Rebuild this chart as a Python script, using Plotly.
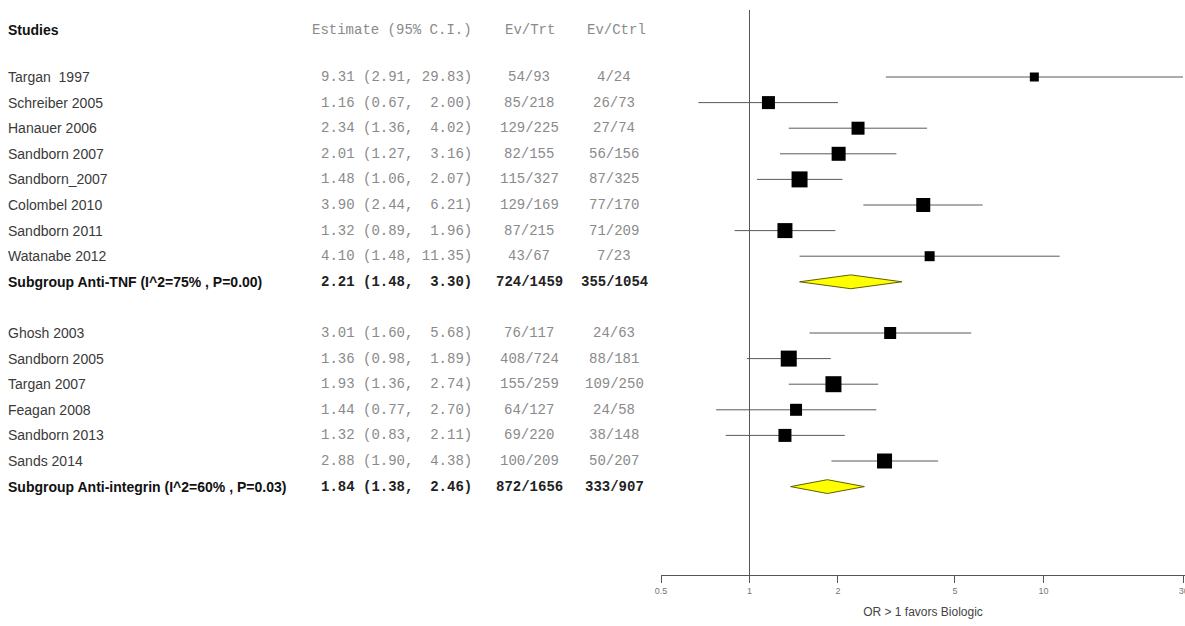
import math
import plotly.graph_objects as go

# ---------------- data ----------------
studies = ["Targan  1997", "Schreiber 2005", "Hanauer 2006", "Sandborn 2007", "Sandborn_2007",
           "Colombel 2010", "Sandborn 2011", "Watanabe 2012",
           "Ghosh 2003", "Sandborn 2005", "Targan 2007", "Feagan 2008", "Sandborn 2013", "Sands 2014"]
study_group = [1, 1, 1, 1, 1, 1, 1, 1, 2, 2, 2, 2, 2, 2]
est = [9.31, 1.16, 2.34, 2.01, 1.48, 3.90, 1.32, 4.10, 3.01, 1.36, 1.93, 1.44, 1.32, 2.88]
lo = [2.91, 0.67, 1.36, 1.27, 1.06, 2.44, 0.89, 1.48, 1.60, 0.98, 1.36, 0.77, 0.83, 1.90]
hi = [29.83, 2.00, 4.02, 3.16, 2.07, 6.21, 1.96, 11.35, 5.68, 1.89, 2.74, 2.70, 2.11, 4.38]
ev_trt = ["54/93", "85/218", "129/225", "82/155", "115/327", "129/169", "87/215", "43/67",
          "76/117", "408/724", "155/259", "64/127", "69/220", "100/209"]
ev_ctrl = ["4/24", "26/73", "27/74", "56/156", "87/325", "77/170", "71/209", "7/23",
           "24/63", "88/181", "109/250", "24/58", "38/148", "50/207"]

sub_labels = ["Subgroup Anti-TNF (I^2=75% , P=0.00)", "Subgroup Anti-integrin (I^2=60% , P=0.03)"]
sub_est = [2.21, 1.84]
sub_lo = [1.48, 1.38]
sub_hi = [3.30, 2.46]
sub_trt = ["724/1459", "872/1656"]
sub_ctrl = ["355/1054", "333/907"]

headers = ["Studies", "Estimate (95% C.I.)", "Ev/Trt", "Ev/Ctrl"]
tick_vals = [0.5, 1, 2, 5, 10, 30]
tick_text = ["0.5", "1", "2", "5", "10", "30"]
x_title = "OR > 1 favors Biologic"

# ---------------- layout helpers (styles) ----------------
W, H = 1185, 626
marker_sizes = [9, 13, 13, 14, 16, 14, 15, 10, 12, 16, 16, 12, 13, 15]

rows = []
r = 1
for i, g in enumerate(study_group):
    if i > 0 and g != study_group[i - 1]:
        r += 2  # subgroup row + blank row
    rows.append(r)
    r += 1
sub_rows = [rows[7] + 1, rows[-1] + 1]
header_row = -0.84

def px(xp):
    return xp / W

sans = "Liberation Sans, Arial, sans-serif"
mono = "Liberation Mono, Courier New, monospace"
name_font = dict(family=sans, size=14, color="#3a3a3a")
name_font_b = dict(family=sans, size=14, color="#111111")
mono_font = dict(family=mono, size=14, color="#8a8a8a")
mono_font_b = dict(family=mono, size=14, color="#222222")

fig = go.Figure()

cx, cy = [], []
for l, h, rr in zip(lo, hi, rows):
    cx += [l, h, None]
    cy += [rr, rr, None]
fig.add_trace(go.Scatter(x=cx, y=cy, mode="lines", line=dict(color="#5a5a5a", width=1),
                         hoverinfo="skip", showlegend=False))
fig.add_trace(go.Scatter(x=est, y=rows, mode="markers", opacity=1,
                         marker=dict(symbol="square", size=marker_sizes, color="#000000",
                                     opacity=1, line=dict(width=0, color="#000000")),
                         showlegend=False))
dh = 0.27
for e, l, h, rr in zip(sub_est, sub_lo, sub_hi, sub_rows):
    fig.add_trace(go.Scatter(x=[l, e, h, e, l], y=[rr, rr - dh, rr, rr + dh, rr],
                             mode="lines", fill="toself", fillcolor="#ffff00",
                             line=dict(color="#5f5f00", width=1), showlegend=False))

NAME_X, EST_X, TRT_X, CTRL_X = 7, 473, 529, 614
ann = []
ann.append(dict(x=px(NAME_X), y=header_row, text="<b>" + headers[0] + "</b>", xanchor="left", font=name_font_b))
ann.append(dict(x=px(EST_X), y=header_row, text=headers[1].replace(" ", "&nbsp;"), xanchor="right", font=mono_font))
ann.append(dict(x=px(TRT_X + 1), y=header_row, text=headers[2], xanchor="center", font=mono_font))
ann.append(dict(x=px(CTRL_X + 2), y=header_row, text=headers[3], xanchor="center", font=mono_font))

def est_str(e, l, h):
    return f"{e:.2f} ({l:.2f}, {h:5.2f})".replace(" ", "&nbsp;")

for i, rr in enumerate(rows):
    ann.append(dict(x=px(NAME_X), y=rr, text=studies[i].replace("  ", "&nbsp; "), xanchor="left", font=name_font))
    ann.append(dict(x=px(EST_X), y=rr, text=est_str(est[i], lo[i], hi[i]), xanchor="right", font=mono_font))
    ann.append(dict(x=px(TRT_X), y=rr, text=ev_trt[i], xanchor="center", font=mono_font))
    ann.append(dict(x=px(CTRL_X), y=rr, text=ev_ctrl[i], xanchor="center", font=mono_font))
for j, rr in enumerate(sub_rows):
    ann.append(dict(x=px(NAME_X), y=rr, text="<b>" + sub_labels[j] + "</b>", xanchor="left", font=name_font_b))
    ann.append(dict(x=px(EST_X), y=rr, text="<b>" + est_str(sub_est[j], sub_lo[j], sub_hi[j]) + "</b>",
                    xanchor="right", font=mono_font_b))
    ann.append(dict(x=px(TRT_X), y=rr, text="<b>" + sub_trt[j] + "</b>", xanchor="center", font=mono_font_b))
    ann.append(dict(x=px(CTRL_X), y=rr, text="<b>" + sub_ctrl[j] + "</b>", xanchor="center", font=mono_font_b))
for a in ann:
    a.update(xref="paper", yref="y", yanchor="middle", showarrow=False, borderpad=0)

y_top_px, y_bot_px = 10, 575
row_top = (y_top_px - 77) / 25.6 + 1
row_bot = (y_bot_px - 77) / 25.6 + 1

fig.update_layout(
    width=W, height=H,
    margin=dict(l=0, r=0, t=0, b=0, autoexpand=False),
    paper_bgcolor="white", plot_bgcolor="white",
    annotations=ann,
    showlegend=False,
    xaxis=dict(type="log", domain=[661 / W, 1.0], automargin=False,
               range=[math.log10(0.5), math.log10(30.3)],
               tickvals=tick_vals, ticktext=tick_text, ticklabeloverflow="allow",
               ticks="outside", ticklen=7, tickcolor="#555555", tickwidth=1,
               showline=True, linecolor="#555555", linewidth=1,
               showgrid=False, zeroline=False,
               tickfont=dict(family=sans, size=9, color="#777777"),
               title=dict(text=x_title, standoff=12,
                          font=dict(family=sans, size=12, color="#444444"))),
    yaxis=dict(domain=[1 - y_bot_px / H, 1 - y_top_px / H], range=[row_bot, row_top],
               visible=False, showgrid=False, zeroline=False, automargin=False),
    shapes=[dict(type="line", xref="x", yref="y", x0=1, x1=1, y0=row_top, y1=row_bot,
                 line=dict(color="#555555", width=1))],
)

fig.write_html("out.html", config={"displayModeBar": False},
               post_script="document.body.style.margin='0';document.body.style.overflow='hidden';")
